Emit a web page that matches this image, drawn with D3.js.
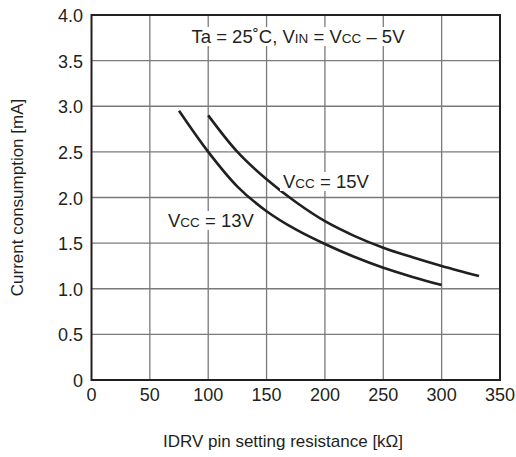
<!DOCTYPE html>
<html>
<head>
<meta charset="utf-8">
<script src="https://cdn.jsdelivr.net/npm/d3@7"></script>
<style>
  body { margin: 0; background: #fff; }
  text { font-family: "Liberation Sans", Arial, sans-serif; fill: #231f20; }
</style>
</head>
<body>
<script>
// valeurs
const xTicks = [0, 50, 100, 150, 200, 250, 300, 350];
const yTicks = [0, 0.5, 1.0, 1.5, 2.0, 2.5, 3.0, 3.5, 4.0];
const rVcc13 = [75, 100, 125, 150, 175, 200, 225, 250, 275, 300];
const iVcc13 = [2.95, 2.50, 2.12, 1.85, 1.65, 1.49, 1.35, 1.23, 1.13, 1.04];
const rVcc15 = [100, 125, 150, 175, 200, 225, 250, 275, 300, 332];
const iVcc15 = [2.90, 2.50, 2.20, 1.95, 1.74, 1.58, 1.45, 1.345, 1.25, 1.14];

const W = 516, H = 457;
const svg = d3.select('body').append('svg')
  .attr('width', W).attr('height', H);

const x = d3.scaleLinear().domain([0, 350]).range([91.5, 500]);
const y = d3.scaleLinear().domain([0, 4]).range([380, 15]);

// grille
svg.append('g').selectAll('line.v')
  .data(xTicks.slice(1, -1)).enter().append('line')
  .attr('x1', d => x(d)).attr('x2', d => x(d))
  .attr('y1', y(0)).attr('y2', y(4))
  .attr('stroke', '#7a7a7a').attr('stroke-width', 1.3);
svg.append('g').selectAll('line.h')
  .data(yTicks.slice(1, -1)).enter().append('line')
  .attr('y1', d => y(d)).attr('y2', d => y(d))
  .attr('x1', x(0)).attr('x2', x(350))
  .attr('stroke', '#7a7a7a').attr('stroke-width', 1.3);

// étiquettes des axes
svg.append('g').selectAll('text')
  .data(yTicks).enter().append('text')
  .attr('x', 83).attr('y', d => y(d) + 7)
  .attr('text-anchor', 'end').style('font-size', '18px')
  .text(d => d === 0 ? '0' : d.toFixed(1));
svg.append('g').selectAll('text')
  .data(xTicks).enter().append('text')
  .attr('x', d => x(d)).attr('y', 401)
  .attr('text-anchor', 'middle').style('font-size', '18px')
  .text(d => d);

// courbes
const ligne = d3.line()
  .x(d => x(d[0])).y(d => y(d[1]))
  .curve(d3.curveCatmullRom);
[[rVcc13, iVcc13], [rVcc15, iVcc15]].forEach(([rs, is]) => {
  svg.append('path')
    .attr('d', ligne(rs.map((r, i) => [r, is[i]])))
    .attr('fill', 'none').attr('stroke', '#231f20').attr('stroke-width', 2.6);
});

// libellés avec fond blanc
function libelle(px, py, parts, anchor) {
  const g = svg.append('g');
  const t = g.append('text').attr('x', px).attr('y', py)
    .attr('text-anchor', anchor).style('font-size', '18.5px');
  parts.forEach(p => {
    t.append('tspan').style('font-size', p[1] ? '13.5px' : null).text(p[0]);
  });
  const b = t.node().getBBox();
  g.insert('rect', 'text')
    .attr('x', b.x - 3).attr('y', b.y + 1)
    .attr('width', b.width + 6).attr('height', b.height - 2)
    .attr('fill', '#fff');
}
libelle(298, 43, [['Ta = 25˚C, V'], ['IN', 1], [' = V'], ['CC', 1], [' – 5V']], 'middle');
libelle(283, 188, [['V'], ['CC', 1], [' = 15V']], 'start');
libelle(168, 227, [['V'], ['CC', 1], [' = 13V']], 'start');

// cadre
svg.append('rect')
  .attr('x', x(0)).attr('y', y(4))
  .attr('width', x(350) - x(0)).attr('height', y(0) - y(4))
  .attr('fill', 'none').attr('stroke', '#231f20').attr('stroke-width', 2);

// titres
svg.append('text')
  .attr('x', 283).attr('y', 447)
  .attr('text-anchor', 'middle').style('font-size', '17px')
  .text('IDRV pin setting resistance [kΩ]');
svg.append('text')
  .attr('transform', 'translate(23,' + ((y(0) + y(4)) / 2) + ') rotate(-90)')
  .attr('text-anchor', 'middle').style('font-size', '17px')
  .text('Current consumption [mA]');
</script>
</body>
</html>
